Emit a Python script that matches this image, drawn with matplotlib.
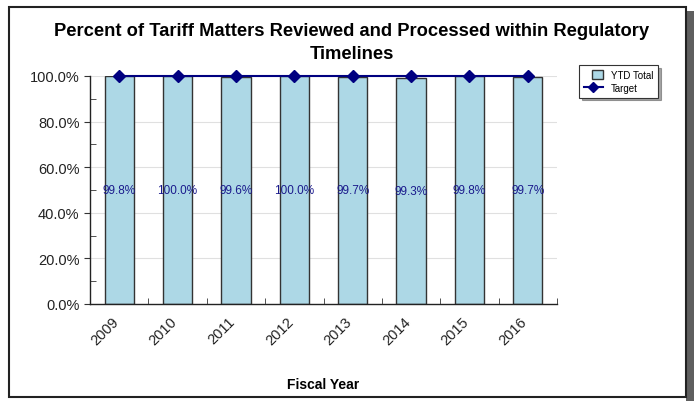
import numpy as np
import matplotlib.pyplot as plt
import matplotlib.transforms as mtransforms
from matplotlib.patches import Rectangle
from matplotlib.ticker import MultipleLocator, FixedLocator, PercentFormatter

plt.rcParams["font.family"] = ["Liberation Sans", "DejaVu Sans"]

years = ["2009", "2010", "2011", "2012", "2013", "2014", "2015", "2016"]
ytd_total = [99.8, 100.0, 99.6, 100.0, 99.7, 99.3, 99.8, 99.7]
target = [100, 100, 100, 100, 100, 100, 100, 100]

fig = plt.figure(figsize=(6.94, 4.02), dpi=100)
W, H = 694, 402

# outer frame with grey shadow on the right
fig.patches.append(Rectangle((686 / W, 0), 8 / W, 1 - 12 / H, transform=fig.transFigure,
                             facecolor="#5f5f5f", edgecolor="none", zorder=-2))
fig.patches.append(Rectangle((9 / W, 4 / H), 677 / W, 1 - 12 / H, transform=fig.transFigure,
                             facecolor="white", edgecolor="#222222", linewidth=1.5, zorder=-1))

ax = fig.add_axes([90 / W, 1 - 305 / H, 467 / W, 228 / H])
ax.set_zorder(2)
ax.patch.set_alpha(0)
x = np.arange(len(years))

bars = ax.bar(x, ytd_total, width=0.5, color="#add8e6", edgecolor="#333333", linewidth=1,
              zorder=2)
line, = ax.plot(x, target, color="#000080", marker="D", markersize=6, linewidth=1.5, zorder=4,
                clip_on=False)

for xi, v in zip(x, ytd_total):
    ax.text(xi, v / 2, f"{v:.1f}%", ha="center", va="center", color="#1a1a8c", fontsize=8.5,
            zorder=5)

ax.set_xlim(-0.5, len(years) - 0.5)
ax.set_ylim(0, 100)
ax.set_xticks(x)
ax.set_xticklabels(years, rotation=45, ha="right", rotation_mode="anchor", fontsize=10.5,
                   color="#222222")
ax.tick_params(axis="x", which="major", length=0, pad=7)
shift = mtransforms.ScaledTranslation(-8 / 100, 0, fig.dpi_scale_trans)
for lab in ax.get_xticklabels():
    lab.set_transform(lab.get_transform() + shift)
ax.xaxis.set_minor_locator(FixedLocator(np.arange(-0.5, len(years), 1.0)))
ax.tick_params(axis="x", which="minor", direction="in", length=4, color="#333333")

ax.yaxis.set_major_locator(MultipleLocator(20))
ax.yaxis.set_minor_locator(MultipleLocator(10))
ax.yaxis.set_major_formatter(PercentFormatter(decimals=1))
ax.tick_params(axis="y", which="major", direction="out", length=4, labelsize=10.5,
               color="#333333", labelcolor="#222222")
ax.tick_params(axis="y", which="minor", direction="in", length=4, color="#333333")
ax.grid(axis="y", color="#e0e0e0", linewidth=0.8, zorder=0)
ax.set_axisbelow(True)

for s in ["top", "right"]:
    ax.spines[s].set_visible(False)
for s in ["left", "bottom"]:
    ax.spines[s].set_color("#222222")
    ax.spines[s].set_linewidth(1)

ax.set_xlabel("Fiscal Year", fontsize=10, fontweight="bold", labelpad=22)
fig.text(352 / W, 1 - 43 / H,
         "Percent of Tariff Matters Reviewed and Processed within Regulatory\nTimelines",
         ha="center", va="center", fontsize=13.2, fontweight="bold", linespacing=1.45)

leg = ax.legend([bars, line], ["YTD Total", "Target"], loc="upper left",
                bbox_to_anchor=(574 / W, 1 - 61 / H), bbox_transform=fig.transFigure,
                fontsize=7, frameon=True, fancybox=False, shadow=True, borderpad=0.5,
                handlelength=2.0, handleheight=1.0, handletextpad=0.8, labelspacing=0.3,
                markerscale=0.8)
leg.get_frame().set_edgecolor("#333333")
leg.get_frame().set_linewidth(0.8)
# square swatch for the bar entry
leg.legend_handles[0].set_width(8)
leg.legend_handles[0].set_x(6)

fig.savefig("out.png", dpi=100)
